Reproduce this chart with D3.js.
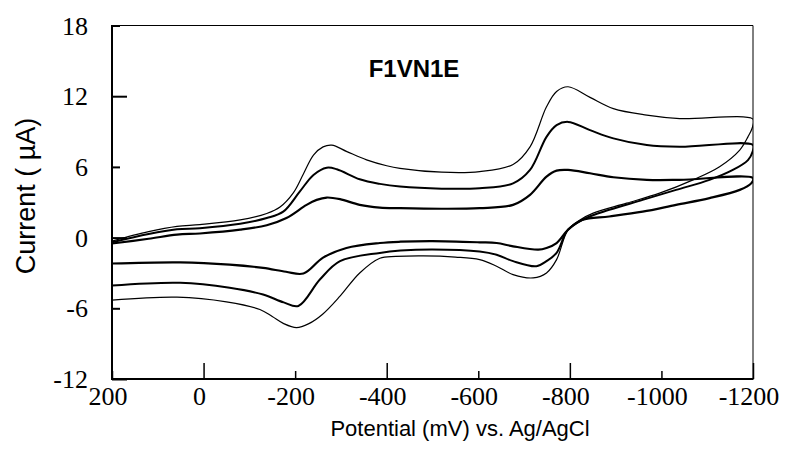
<!DOCTYPE html>
<html>
<head>
<meta charset="utf-8">
<script src="https://cdn.jsdelivr.net/npm/d3@7"></script>
<style>
  body { margin: 0; background: #fff; }
  svg { display: block; }
</style>
</head>
<body>
<div id="chart"></div>
<script>
// potential (mV) / current (uA) pairs
// each scan: forward branch 200 -> -1200, then return branch -1200 -> 200
var thinFwd = [[200,-0.3],[120,0.5],[58,0.95],[8,1.1],[-80,1.5],[-138,2.05],[-167,2.6],[-196,3.8],[-218,5.4],[-240,7.0],[-261,7.7],[-280,7.85],[-313,7.3],[-356,6.6],[-400,6.1],[-429,5.88],[-520,5.55],[-603,5.6],[-676,6.2],[-713,7.7],[-749,11.1],[-771,12.4],[-796,12.8],[-844,11.9],[-895,10.95],[-968,10.4],[-1040,10.1],[-1200,10.05]];
var thinRev = [[-1199,9.4],[-1189,8.55],[-1171,7.43],[-1127,6.02],[-1069,4.9],[-996,3.77],[-924,2.92],[-851,2.08],[-822,1.5],[-796,0.67],[-771,-1.87],[-749,-3.0],[-720,-3.42],[-676,-3.14],[-640,-2.43],[-603,-1.87],[-550,-1.65],[-480,-1.55],[-420,-1.6],[-385,-1.75],[-341,-3.0],[-298,-4.97],[-260,-6.5],[-230,-7.3],[-203,-7.64],[-175,-7.3],[-150,-6.7],[-123,-6.1],[-50,-5.45],[58,-5.05],[200,-5.3]];

var midFwd = [[200,-0.4],[120,0.3],[58,0.7],[8,0.8],[-80,1.17],[-138,1.66],[-174,2.2],[-210,3.9],[-240,5.32],[-269,5.93],[-291,5.8],[-341,4.95],[-385,4.56],[-429,4.33],[-520,4.15],[-603,4.19],[-676,4.6],[-713,5.74],[-749,8.55],[-771,9.54],[-796,9.82],[-844,9.12],[-895,8.42],[-968,7.85],[-1040,7.7],[-1200,7.85]];
var midRev = [[-1199,7.29],[-1189,6.58],[-1156,5.74],[-1105,4.9],[-1032,4.05],[-959,3.2],[-886,2.36],[-835,1.66],[-796,0.67],[-771,-1.3],[-749,-2.0],[-727,-2.43],[-676,-2.0],[-640,-1.45],[-603,-1.17],[-500,-1.0],[-430,-1.1],[-385,-1.3],[-298,-2.0],[-254,-3.56],[-207,-5.8],[-175,-5.5],[-130,-4.83],[-57,-4.26],[51,-3.84],[200,-4.07]];

var thickFwd = [[200,-0.5],[120,-0.1],[58,0.25],[8,0.35],[-80,0.67],[-138,1.05],[-181,1.66],[-225,2.78],[-247,3.2],[-269,3.4],[-298,3.26],[-341,2.78],[-385,2.55],[-429,2.5],[-520,2.45],[-603,2.5],[-676,2.78],[-713,3.63],[-749,5.17],[-771,5.68],[-796,5.74],[-844,5.46],[-895,5.12],[-968,4.9],[-1040,4.9],[-1200,5.05]];
var thickRev = [[-1196,4.6],[-1171,4.05],[-1105,3.35],[-1032,2.78],[-959,2.2],[-886,1.79],[-827,1.5],[-796,0.67],[-771,-0.46],[-749,-0.88],[-731,-1.02],[-676,-0.74],[-640,-0.46],[-603,-0.4],[-500,-0.3],[-430,-0.35],[-385,-0.46],[-312,-0.88],[-261,-1.7],[-218,-3.05],[-180,-2.9],[-130,-2.57],[-57,-2.29],[51,-2.1],[200,-2.2]];

var xTicks = [200, 0, -200, -400, -600, -800, -1000, -1200];
var yTicks = [18, 12, 6, 0, -6, -12];
var xLongTicks = [0, -400, -800, -1200];
var yLongTicks = [12, 0, -12];

(function () {
var width = 794, height = 465;
var mL = 112, mR = 753, mT = 25.5, mB = 379;

var svg = d3.select("#chart").append("svg")
    .attr("width", width)
    .attr("height", height);

var x = d3.scaleLinear().domain([200, -1200]).range([mL, mR]);
var y = d3.scaleLinear().domain([-12, 18]).range([mB, mT]);

var line = d3.line()
    .x(function (d) {return x(d[0]);})
    .y(function (d) {return y(d[1]);})
    .curve(d3.curveCatmullRom.alpha(0.5));

var scans = [
  {pts: thickFwd.concat(thickRev), w: 2.2},
  {pts: midFwd.concat(midRev), w: 2},
  {pts: thinFwd.concat(thinRev), w: 1.2}
];

svg.append("defs").append("clipPath").attr("id", "plot")
  .append("rect")
    .attr("x", mL).attr("y", mT)
    .attr("width", mR - mL).attr("height", mB - mT);

svg.append("g")
    .attr("clip-path", "url(#plot)")
  .selectAll("path")
  .data(scans)
  .enter()
  .append("path")
    .attr("d", function (d) {return line(d.pts);})
    .attr("fill", "none")
    .attr("stroke", "#000")
    .attr("stroke-width", function (d) {return d.w;})
    .attr("stroke-linejoin", "round");

// frame: thin top/right, heavier left/bottom axes
svg.append("path")
    .attr("d", "M" + mL + "," + mT + "H" + mR + "V" + mB)
    .attr("fill", "none").attr("stroke", "#000").attr("stroke-width", 1);

// y axis, ticks pointing into the plot
var gy = svg.append("g")
    .attr("transform", "translate(" + mL + ",0)")
    .call(d3.axisRight(y).tickValues(yTicks).tickSize(8).tickFormat(""));
gy.select(".domain").remove();
gy.selectAll(".tick line")
    .attr("x2", function (d) {return yLongTicks.indexOf(d) >= 0 ? 15 : 8;})
    .attr("stroke-width", 2);

var gx = svg.append("g")
    .attr("transform", "translate(0," + mB + ")")
    .call(d3.axisTop(x).tickValues(xTicks).tickSize(8).tickFormat(""));
gx.select(".domain").remove();
gx.selectAll(".tick line")
    .attr("y2", function (d) {return xLongTicks.indexOf(d) >= 0 ? -16 : -8;})
    .attr("stroke-width", 1.5);

svg.append("line")
    .attr("x1", mL).attr("x2", mL)
    .attr("y1", mT - 0.5).attr("y2", mB + 1)
    .attr("stroke", "#000").attr("stroke-width", 2);
svg.append("line")
    .attr("x1", mL - 1).attr("x2", mR + 0.5)
    .attr("y1", mB).attr("y2", mB)
    .attr("stroke", "#000").attr("stroke-width", 2);

// tick labels
svg.append("g").selectAll("text")
    .data(yTicks)
    .enter()
    .append("text")
    .attr("x", 88)
    .attr("y", function (d) {return y(d);})
    .attr("dy", "0.35em")
    .attr("text-anchor", "end")
    .style("font-family", "'Liberation Serif', 'Times New Roman', serif")
    .style("font-size", "26px")
    .text(function (d) {return d;});

svg.append("g").selectAll("text")
    .data(xTicks)
    .enter()
    .append("text")
    .attr("x", function (d) {return x(d) - 4;})
    .attr("y", 405)
    .attr("text-anchor", "middle")
    .style("font-family", "'Liberation Serif', 'Times New Roman', serif")
    .style("font-size", "26px")
    .text(function (d) {return d;});

// titles
svg.append("text")
    .attr("x", 460)
    .attr("y", 436)
    .attr("text-anchor", "middle")
    .style("font-family", "'Liberation Sans', Arial, sans-serif")
    .style("font-size", "22px")
    .text("Potential (mV) vs. Ag/AgCl");

svg.append("text")
    .attr("transform", "translate(35,196) rotate(-90)")
    .attr("text-anchor", "middle")
    .style("font-family", "'Liberation Sans', Arial, sans-serif")
    .style("font-size", "27px")
    .text("Current ( \u00b5A)");

svg.append("text")
    .attr("x", 414)
    .attr("y", 77)
    .attr("text-anchor", "middle")
    .style("font-family", "'Liberation Sans', Arial, sans-serif")
    .style("font-size", "24px")
    .style("font-weight", "bold")
    .text("F1VN1E");
})();
</script>
</body>
</html>
